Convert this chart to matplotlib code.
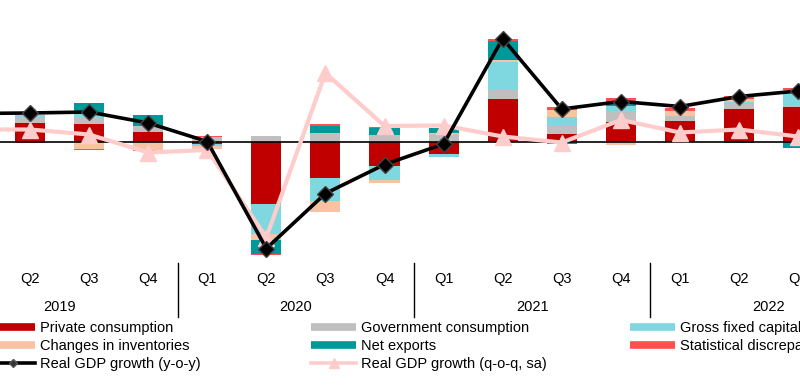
import matplotlib
matplotlib.use("Agg")
import matplotlib.pyplot as plt
from matplotlib.lines import Line2D
import numpy as np

plt.rcParams['font.family'] = ['Liberation Sans', 'DejaVu Sans']

# quarters Q1 2019 .. Q3 2022
quarters = ['Q1', 'Q2', 'Q3', 'Q4', 'Q1', 'Q2', 'Q3', 'Q4',
            'Q1', 'Q2', 'Q3', 'Q4', 'Q1', 'Q2', 'Q3']
years = ['2019', '2020', '2021', '2022']

# contributions, percentage points
private = [1.8, 1.83, 1.75, 0.93, -0.2, -6.27, -3.67, -2.43, -1.2, 4.23, 0.73, 2.0, 2.03, 3.3, 3.5]
gov = [0.5, 0.5, 0.57, 0.67, 0.5, 0.53, 0.83, 0.63, 0.8, 0.9, 0.8, 1.05, 0.5, 0.43, 0.1]
gfcf = [0.3, 0.35, 0.56, 0.0, -0.25, -2.93, -2.3, -1.43, -0.33, 2.8, 0.93, 0.5, 0.0, 0.23, 1.3]
inventories = [-0.3, 0.0, -0.75, -0.87, -0.25, -0.67, -1.1, -0.27, 0.1, 0.27, 0.73, -0.33, 0.5, 0.27, 0.25]
net_exports = [0.3, 0.0, 0.97, 1.03, 0.0, -1.33, 0.73, 0.73, 0.45, 1.83, -0.25, 0.5, 0.0, -0.17, -0.6]
stat_disc = [0.0, -0.15, -0.1, -0.1, 0.1, -0.15, 0.17, 0.1, 0.0, 0.2, 0.23, 0.3, 0.3, 0.3, 0.25]

gdp_yoy = [2.8, 2.85, 2.95, 1.85, 0.0, -10.7, -5.2, -2.3, -0.25, 10.3, 3.25, 4.0, 3.5, 4.5, 5.05]
gdp_qoq = [1.2, 1.2, 0.7, -1.1, -0.85, -9.6, 6.85, 1.55, 1.6, 0.5, -0.1, 2.15, 0.9, 1.2, 0.5]

components = [
    ('Private consumption', private, '#C00000'),
    ('Government consumption', gov, '#BFBFBF'),
    ('Gross fixed capital formation', gfcf, '#7FD7E0'),
    ('Changes in inventories', inventories, '#F8C3A3'),
    ('Net exports', net_exports, '#009999'),
    ('Statistical discrepancy', stat_disc, '#FF5050'),
]

W, H = 800, 387
fig = plt.figure(figsize=(W / 100, H / 100), dpi=100)
ax_bottom = 262
ax = fig.add_axes([0, 1 - ax_bottom / H, 1, ax_bottom / H])

x = np.arange(len(quarters))
pos_base = np.zeros(len(x))
neg_base = np.zeros(len(x))
for name, vals, col in components:
    v = np.array(vals)
    base = np.where(v >= 0, pos_base, neg_base)
    ax.bar(x, v, 0.51, bottom=base, color=col, zorder=2)
    pos_base += np.where(v >= 0, v, 0)
    neg_base += np.where(v < 0, v, 0)

ax.axhline(0, color='black', lw=1.2, zorder=3)
ax.plot(x, gdp_qoq, color='#FFCCCC', lw=3, marker='^', ms=11, zorder=4)
ax.plot(x, gdp_yoy, color='black', lw=2.6, marker='D', ms=8,
        mfc='black', mec='#444444', mew=1, zorder=5)

for s in ax.spines.values():
    s.set_visible(False)
ax.set_yticks([])
ax.set_xticks(x)
ax.set_xticklabels(quarters, fontsize=10.5)
ax.tick_params(axis='x', length=0, pad=7.5)

# x scale: Q2 2019 at 30 px, Q2 2022 at 739 px (chart is cut at both sides)
step = (739 - 30) / 12
ax.set_xlim(1 - 30 / step, 1 + (W - 30) / step)
ax.set_ylim(-(ax_bottom - 141.5) / 10, 141.5 / 10)

trans = ax.get_xaxis_transform()
for i, yr in enumerate(years):
    ax.text(4 * i + 1.5, -(307 - ax_bottom) / ax_bottom, yr, transform=trans,
            ha='center', va='center', fontsize=10.5)
for i in range(3):
    ax.plot([4 * i + 3.5] * 2, [-(263 - ax_bottom) / ax_bottom, -(317 - ax_bottom) / ax_bottom],
            transform=trans, color='black', lw=1, clip_on=False, scalex=False, scaley=False)


def patch_handle(col):
    return Line2D([], [], color=col, lw=5.5, solid_capstyle='butt')


h_yoy = Line2D([], [], color='black', lw=2.6, marker='D', ms=4, mfc='#333333', mec='#555555')
h_qoq = Line2D([], [], color='#FFCCCC', lw=2.6, marker='^', ms=7)

columns = [
    (-10, [(patch_handle('#C00000'), 'Private consumption'),
           (patch_handle('#F8C3A3'), 'Changes in inventories'),
           (h_yoy, 'Real GDP growth (y-o-y)')]),
    (311, [(patch_handle('#BFBFBF'), 'Government consumption'),
           (patch_handle('#009999'), 'Net exports'),
           (h_qoq, 'Real GDP growth (q-o-q, sa)')]),
    (630, [(patch_handle('#7FD7E0'), 'Gross fixed capital formation'),
           (patch_handle('#FF5050'), 'Statistical discrepancy')]),
]
for x0, items in columns:
    leg = fig.legend([h for h, _ in items], [t for _, t in items],
                     loc='upper left', bbox_to_anchor=(x0 / W, 1 - 321 / H),
                     frameon=False, fontsize=10.5, borderpad=0, borderaxespad=0,
                     handlelength=3.1, handletextpad=0.35, labelspacing=0.29)

fig.savefig('out.png', dpi=100)
